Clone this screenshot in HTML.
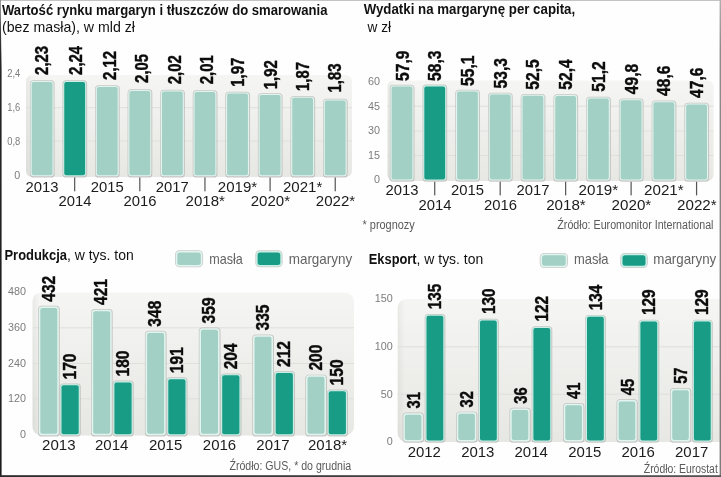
<!DOCTYPE html>
<html lang="pl"><head><meta charset="utf-8"><title>Rynek margaryn</title>
<style>
html,body{margin:0;padding:0;background:#fff;}
body{width:721px;height:477px;overflow:hidden;}
svg{display:block;will-change:transform;font-family:"Liberation Sans","DejaVu Sans",sans-serif;}
.v{font-weight:bold;fill:#0c0c0c;stroke:#0c0c0c;stroke-width:0.4px;}
.y{fill:#7c7c7c;}
.x{fill:#1c1c1c;}
.t{fill:#111;font-size:14.5px;}
.tb{font-weight:bold;}
.s{fill:#5a5a5a;font-size:12px;}
.l{fill:#636363;font-size:14.5px;}
</style></head><body>
<svg width="721" height="477" viewBox="0 0 721 477">
<defs>
<linearGradient id="g" x1="0" y1="0" x2="0" y2="1"><stop offset="0" stop-color="#f5f5f3"/><stop offset="1" stop-color="#e7e7e4"/></linearGradient>
<linearGradient id="sh" x1="0" y1="0" x2="1" y2="0"><stop offset="0" stop-color="#000" stop-opacity="0.05"/><stop offset="0.5" stop-color="#000" stop-opacity="0"/></linearGradient>
</defs>
<rect x="0" y="0" width="721" height="477" fill="#fefefe"/>
<text class="t tb" x="2" y="14.5" textLength="325.5" lengthAdjust="spacingAndGlyphs">Wartość rynku margaryn i tłuszczów do smarowania</text>
<text class="t" x="2" y="32" textLength="133" lengthAdjust="spacingAndGlyphs">(bez masła), w mld zł</text>
<rect x="26" y="75" width="326" height="102" rx="6" fill="url(#g)"/>
<rect x="26" y="75" width="14" height="102" rx="6" fill="url(#sh)"/>
<rect x="26" y="107.20" width="326" height="1" fill="#dfdfdc"/>
<rect x="26" y="140.50" width="326" height="1" fill="#dfdfdc"/>
<text class="y" x="20.30" y="77.40" text-anchor="end" font-size="11" textLength="13.0" lengthAdjust="spacingAndGlyphs">2,4</text>
<text class="y" x="20.30" y="111.10" text-anchor="end" font-size="11" textLength="13.0" lengthAdjust="spacingAndGlyphs">1,6</text>
<text class="y" x="20.30" y="145.00" text-anchor="end" font-size="11" textLength="13.0" lengthAdjust="spacingAndGlyphs">0,8</text>
<text class="y" x="20.30" y="179.20" text-anchor="end" font-size="11" textLength="6.0" lengthAdjust="spacingAndGlyphs">0</text>
<rect x="29.90" y="80.30" width="24.70" height="97.20" rx="3.6" fill="#b3b5b1" opacity="0.7"/>
<rect x="30.60" y="81.00" width="23.00" height="95.30" rx="3" fill="#e2f4ef"/>
<rect x="31.70" y="82.10" width="20.80" height="93.10" rx="2" fill="#a3d0c5"/>
<rect x="62.47" y="80.30" width="24.70" height="97.20" rx="3.6" fill="#b3b5b1" opacity="0.7"/>
<rect x="63.17" y="81.00" width="23.00" height="95.30" rx="3" fill="#c9efe6"/>
<rect x="64.27" y="82.10" width="20.80" height="93.10" rx="2" fill="#199c86"/>
<rect x="95.04" y="85.30" width="24.70" height="92.20" rx="3.6" fill="#b3b5b1" opacity="0.7"/>
<rect x="95.74" y="86.00" width="23.00" height="90.30" rx="3" fill="#e2f4ef"/>
<rect x="96.84" y="87.10" width="20.80" height="88.10" rx="2" fill="#a3d0c5"/>
<rect x="127.61" y="89.30" width="24.70" height="88.20" rx="3.6" fill="#b3b5b1" opacity="0.7"/>
<rect x="128.31" y="90.00" width="23.00" height="86.30" rx="3" fill="#e2f4ef"/>
<rect x="129.41" y="91.10" width="20.80" height="84.10" rx="2" fill="#a3d0c5"/>
<rect x="160.18" y="89.80" width="24.70" height="87.70" rx="3.6" fill="#b3b5b1" opacity="0.7"/>
<rect x="160.88" y="90.50" width="23.00" height="85.80" rx="3" fill="#e2f4ef"/>
<rect x="161.98" y="91.60" width="20.80" height="83.60" rx="2" fill="#a3d0c5"/>
<rect x="192.75" y="90.30" width="24.70" height="87.20" rx="3.6" fill="#b3b5b1" opacity="0.7"/>
<rect x="193.45" y="91.00" width="23.00" height="85.30" rx="3" fill="#e2f4ef"/>
<rect x="194.55" y="92.10" width="20.80" height="83.10" rx="2" fill="#a3d0c5"/>
<rect x="225.32" y="91.70" width="24.70" height="85.80" rx="3.6" fill="#b3b5b1" opacity="0.7"/>
<rect x="226.02" y="92.40" width="23.00" height="83.90" rx="3" fill="#e2f4ef"/>
<rect x="227.12" y="93.50" width="20.80" height="81.70" rx="2" fill="#a3d0c5"/>
<rect x="257.89" y="93.30" width="24.70" height="84.20" rx="3.6" fill="#b3b5b1" opacity="0.7"/>
<rect x="258.59" y="94.00" width="23.00" height="82.30" rx="3" fill="#e2f4ef"/>
<rect x="259.69" y="95.10" width="20.80" height="80.10" rx="2" fill="#a3d0c5"/>
<rect x="290.46" y="96.00" width="24.70" height="81.50" rx="3.6" fill="#b3b5b1" opacity="0.7"/>
<rect x="291.16" y="96.70" width="23.00" height="79.60" rx="3" fill="#e2f4ef"/>
<rect x="292.26" y="97.80" width="20.80" height="77.40" rx="2" fill="#a3d0c5"/>
<rect x="323.03" y="98.80" width="24.70" height="78.70" rx="3.6" fill="#b3b5b1" opacity="0.7"/>
<rect x="323.73" y="99.50" width="23.00" height="76.80" rx="3" fill="#e2f4ef"/>
<rect x="324.83" y="100.60" width="20.80" height="74.60" rx="2" fill="#a3d0c5"/>
<text class="v" transform="translate(47.60,74.90) rotate(-90)" font-size="18" textLength="29.0" lengthAdjust="spacingAndGlyphs">2,23</text>
<text class="x" x="25.60" y="191.60" font-size="14.5" textLength="33.0" lengthAdjust="spacingAndGlyphs">2013</text>
<text class="v" transform="translate(81.60,74.90) rotate(-90)" font-size="18" textLength="29.0" lengthAdjust="spacingAndGlyphs">2,24</text>
<text class="x" x="58.47" y="206.10" font-size="14.5" textLength="33.0" lengthAdjust="spacingAndGlyphs">2014</text>
<rect x="74.07" y="177.5" width="1.2" height="13.8" fill="#555"/>
<text class="v" transform="translate(115.50,79.90) rotate(-90)" font-size="18" textLength="29.0" lengthAdjust="spacingAndGlyphs">2,12</text>
<text class="x" x="90.74" y="191.60" font-size="14.5" textLength="33.0" lengthAdjust="spacingAndGlyphs">2015</text>
<text class="v" transform="translate(148.10,82.90) rotate(-90)" font-size="18" textLength="29.0" lengthAdjust="spacingAndGlyphs">2,05</text>
<text class="x" x="123.61" y="206.10" font-size="14.5" textLength="33.0" lengthAdjust="spacingAndGlyphs">2016</text>
<rect x="139.21" y="177.5" width="1.2" height="13.8" fill="#555"/>
<text class="v" transform="translate(180.50,84.20) rotate(-90)" font-size="18" textLength="29.0" lengthAdjust="spacingAndGlyphs">2,02</text>
<text class="x" x="155.88" y="191.60" font-size="14.5" textLength="33.0" lengthAdjust="spacingAndGlyphs">2017</text>
<text class="v" transform="translate(212.60,84.20) rotate(-90)" font-size="18" textLength="29.0" lengthAdjust="spacingAndGlyphs">2,01</text>
<text class="x" x="185.60" y="206.10" font-size="14.5" textLength="39.3" lengthAdjust="spacingAndGlyphs">2018*</text>
<rect x="204.35" y="177.5" width="1.2" height="13.8" fill="#555"/>
<text class="v" transform="translate(243.90,86.70) rotate(-90)" font-size="18" textLength="29.0" lengthAdjust="spacingAndGlyphs">1,97</text>
<text class="x" x="217.87" y="191.60" font-size="14.5" textLength="39.3" lengthAdjust="spacingAndGlyphs">2019*</text>
<text class="v" transform="translate(276.60,89.20) rotate(-90)" font-size="18" textLength="29.0" lengthAdjust="spacingAndGlyphs">1,92</text>
<text class="x" x="250.74" y="206.10" font-size="14.5" textLength="39.3" lengthAdjust="spacingAndGlyphs">2020*</text>
<rect x="269.49" y="177.5" width="1.2" height="13.8" fill="#555"/>
<text class="v" transform="translate(309.30,91.00) rotate(-90)" font-size="18" textLength="29.0" lengthAdjust="spacingAndGlyphs">1,87</text>
<text class="x" x="283.01" y="191.60" font-size="14.5" textLength="39.3" lengthAdjust="spacingAndGlyphs">2021*</text>
<text class="v" transform="translate(341.20,92.50) rotate(-90)" font-size="18" textLength="29.0" lengthAdjust="spacingAndGlyphs">1,83</text>
<text class="x" x="315.88" y="206.10" font-size="14.5" textLength="39.3" lengthAdjust="spacingAndGlyphs">2022*</text>
<rect x="334.63" y="177.5" width="1.2" height="13.8" fill="#555"/>
<text class="t tb" x="363.7" y="14.3" textLength="211.5" lengthAdjust="spacingAndGlyphs">Wydatki na margarynę per capita,</text>
<text class="t" x="367.5" y="32.3" textLength="23.5" lengthAdjust="spacingAndGlyphs">w zł</text>
<rect x="387.5" y="80.5" width="326.0" height="100.5" rx="6" fill="url(#g)"/>
<rect x="387.5" y="80.5" width="14" height="100.5" rx="6" fill="url(#sh)"/>
<rect x="387.5" y="105.70" width="326.0" height="1" fill="#dfdfdc"/>
<rect x="387.5" y="130.50" width="326.0" height="1" fill="#dfdfdc"/>
<rect x="387.5" y="155.00" width="326.0" height="1" fill="#dfdfdc"/>
<text class="y" x="379.90" y="84.70" text-anchor="end" font-size="11" textLength="12.0" lengthAdjust="spacingAndGlyphs">60</text>
<text class="y" x="379.90" y="109.60" text-anchor="end" font-size="11" textLength="12.0" lengthAdjust="spacingAndGlyphs">45</text>
<text class="y" x="379.90" y="134.40" text-anchor="end" font-size="11" textLength="12.0" lengthAdjust="spacingAndGlyphs">30</text>
<text class="y" x="379.90" y="158.90" text-anchor="end" font-size="11" textLength="12.0" lengthAdjust="spacingAndGlyphs">15</text>
<text class="y" x="379.90" y="183.40" text-anchor="end" font-size="11" textLength="6.0" lengthAdjust="spacingAndGlyphs">0</text>
<rect x="389.80" y="84.80" width="24.70" height="97.00" rx="3.6" fill="#b3b5b1" opacity="0.7"/>
<rect x="390.50" y="85.50" width="23.00" height="95.10" rx="3" fill="#e2f4ef"/>
<rect x="391.60" y="86.60" width="20.80" height="92.90" rx="2" fill="#a3d0c5"/>
<rect x="422.53" y="84.60" width="24.70" height="97.20" rx="3.6" fill="#b3b5b1" opacity="0.7"/>
<rect x="423.23" y="85.30" width="23.00" height="95.30" rx="3" fill="#c9efe6"/>
<rect x="424.33" y="86.40" width="20.80" height="93.10" rx="2" fill="#199c86"/>
<rect x="455.26" y="89.80" width="24.70" height="92.00" rx="3.6" fill="#b3b5b1" opacity="0.7"/>
<rect x="455.96" y="90.50" width="23.00" height="90.10" rx="3" fill="#e2f4ef"/>
<rect x="457.06" y="91.60" width="20.80" height="87.90" rx="2" fill="#a3d0c5"/>
<rect x="487.99" y="92.80" width="24.70" height="89.00" rx="3.6" fill="#b3b5b1" opacity="0.7"/>
<rect x="488.69" y="93.50" width="23.00" height="87.10" rx="3" fill="#e2f4ef"/>
<rect x="489.79" y="94.60" width="20.80" height="84.90" rx="2" fill="#a3d0c5"/>
<rect x="520.72" y="94.05" width="24.70" height="87.75" rx="3.6" fill="#b3b5b1" opacity="0.7"/>
<rect x="521.42" y="94.75" width="23.00" height="85.85" rx="3" fill="#e2f4ef"/>
<rect x="522.52" y="95.85" width="20.80" height="83.65" rx="2" fill="#a3d0c5"/>
<rect x="553.45" y="94.30" width="24.70" height="87.50" rx="3.6" fill="#b3b5b1" opacity="0.7"/>
<rect x="554.15" y="95.00" width="23.00" height="85.60" rx="3" fill="#e2f4ef"/>
<rect x="555.25" y="96.10" width="20.80" height="83.40" rx="2" fill="#a3d0c5"/>
<rect x="586.18" y="96.80" width="24.70" height="85.00" rx="3.6" fill="#b3b5b1" opacity="0.7"/>
<rect x="586.88" y="97.50" width="23.00" height="83.10" rx="3" fill="#e2f4ef"/>
<rect x="587.98" y="98.60" width="20.80" height="80.90" rx="2" fill="#a3d0c5"/>
<rect x="618.91" y="98.55" width="24.70" height="83.25" rx="3.6" fill="#b3b5b1" opacity="0.7"/>
<rect x="619.61" y="99.25" width="23.00" height="81.35" rx="3" fill="#e2f4ef"/>
<rect x="620.71" y="100.35" width="20.80" height="79.15" rx="2" fill="#a3d0c5"/>
<rect x="651.64" y="100.55" width="24.70" height="81.25" rx="3.6" fill="#b3b5b1" opacity="0.7"/>
<rect x="652.34" y="101.25" width="23.00" height="79.35" rx="3" fill="#e2f4ef"/>
<rect x="653.44" y="102.35" width="20.80" height="77.15" rx="2" fill="#a3d0c5"/>
<rect x="684.37" y="102.80" width="24.70" height="79.00" rx="3.6" fill="#b3b5b1" opacity="0.7"/>
<rect x="685.07" y="103.50" width="23.00" height="77.10" rx="3" fill="#e2f4ef"/>
<rect x="686.17" y="104.60" width="20.80" height="74.90" rx="2" fill="#a3d0c5"/>
<text class="v" transform="translate(408.50,80.90) rotate(-90)" font-size="18" textLength="30.4" lengthAdjust="spacingAndGlyphs">57,9</text>
<text class="x" x="385.50" y="195.30" font-size="14.5" textLength="33.0" lengthAdjust="spacingAndGlyphs">2013</text>
<text class="v" transform="translate(441.23,80.90) rotate(-90)" font-size="18" textLength="30.4" lengthAdjust="spacingAndGlyphs">58,3</text>
<text class="x" x="418.53" y="210.00" font-size="14.5" textLength="33.0" lengthAdjust="spacingAndGlyphs">2014</text>
<rect x="434.13" y="181.8" width="1.2" height="13.6" fill="#555"/>
<text class="v" transform="translate(473.96,85.90) rotate(-90)" font-size="18" textLength="30.4" lengthAdjust="spacingAndGlyphs">55,1</text>
<text class="x" x="450.96" y="195.30" font-size="14.5" textLength="33.0" lengthAdjust="spacingAndGlyphs">2015</text>
<text class="v" transform="translate(506.69,88.40) rotate(-90)" font-size="18" textLength="30.4" lengthAdjust="spacingAndGlyphs">53,3</text>
<text class="x" x="483.99" y="210.00" font-size="14.5" textLength="33.0" lengthAdjust="spacingAndGlyphs">2016</text>
<rect x="499.59" y="181.8" width="1.2" height="13.6" fill="#555"/>
<text class="v" transform="translate(539.42,89.65) rotate(-90)" font-size="18" textLength="30.4" lengthAdjust="spacingAndGlyphs">52,5</text>
<text class="x" x="516.42" y="195.30" font-size="14.5" textLength="33.0" lengthAdjust="spacingAndGlyphs">2017</text>
<text class="v" transform="translate(572.15,89.65) rotate(-90)" font-size="18" textLength="30.4" lengthAdjust="spacingAndGlyphs">52,4</text>
<text class="x" x="546.15" y="210.00" font-size="14.5" textLength="39.6" lengthAdjust="spacingAndGlyphs">2018*</text>
<rect x="565.05" y="181.8" width="1.2" height="13.6" fill="#555"/>
<text class="v" transform="translate(604.88,91.65) rotate(-90)" font-size="18" textLength="30.4" lengthAdjust="spacingAndGlyphs">51,2</text>
<text class="x" x="578.58" y="195.30" font-size="14.5" textLength="39.6" lengthAdjust="spacingAndGlyphs">2019*</text>
<text class="v" transform="translate(637.61,94.15) rotate(-90)" font-size="18" textLength="30.4" lengthAdjust="spacingAndGlyphs">49,8</text>
<text class="x" x="611.61" y="210.00" font-size="14.5" textLength="39.6" lengthAdjust="spacingAndGlyphs">2020*</text>
<rect x="630.51" y="181.8" width="1.2" height="13.6" fill="#555"/>
<text class="v" transform="translate(670.34,95.90) rotate(-90)" font-size="18" textLength="30.4" lengthAdjust="spacingAndGlyphs">48,6</text>
<text class="x" x="644.04" y="195.30" font-size="14.5" textLength="39.6" lengthAdjust="spacingAndGlyphs">2021*</text>
<text class="v" transform="translate(703.07,97.90) rotate(-90)" font-size="18" textLength="30.4" lengthAdjust="spacingAndGlyphs">47,6</text>
<text class="x" x="677.07" y="210.00" font-size="14.5" textLength="39.6" lengthAdjust="spacingAndGlyphs">2022*</text>
<rect x="695.97" y="181.8" width="1.2" height="13.6" fill="#555"/>
<text class="s" x="362.5" y="229.3" textLength="52.3" lengthAdjust="spacingAndGlyphs">* prognozy</text>
<text class="s" x="557.3" y="228.8" textLength="156.2" lengthAdjust="spacingAndGlyphs">Źródło: Euromonitor International</text>
<text class="t" x="4.5" y="259.5"><tspan class="tb" textLength="62.5" lengthAdjust="spacingAndGlyphs">Produkcja</tspan></text>
<text class="t" x="67" y="259.5" textLength="66.8" lengthAdjust="spacingAndGlyphs">, w tys. ton</text>
<rect x="175.00" y="250.30" width="28.10" height="17.00" rx="4.5" fill="#bdbfbb" opacity="0.8"/>
<rect x="175.80" y="251.10" width="26.50" height="15.40" rx="3.8" fill="#e2f4ef"/>
<rect x="177.30" y="252.60" width="23.50" height="12.40" rx="2.5" fill="#a3d0c5"/>
<rect x="255.30" y="250.30" width="27.30" height="17.00" rx="4.5" fill="#bdbfbb" opacity="0.8"/>
<rect x="256.10" y="251.10" width="25.70" height="15.40" rx="3.8" fill="#c9efe6"/>
<rect x="257.60" y="252.60" width="22.70" height="12.40" rx="2.5" fill="#199c86"/>
<text class="l" x="209.2" y="263.8" textLength="33.6" lengthAdjust="spacingAndGlyphs">masła</text>
<text class="l" x="288.7" y="263.8" textLength="63.6" lengthAdjust="spacingAndGlyphs">margaryny</text>
<rect x="32.5" y="292.5" width="321.5" height="143.0" rx="9" fill="url(#g)"/>
<rect x="32.5" y="292.5" width="14" height="143.0" rx="9" fill="url(#sh)"/>
<rect x="32.5" y="327.30" width="321.5" height="1" fill="#dfdfdc"/>
<rect x="32.5" y="363.00" width="321.5" height="1" fill="#dfdfdc"/>
<rect x="32.5" y="398.30" width="321.5" height="1" fill="#dfdfdc"/>
<text class="y" x="25.90" y="295.40" text-anchor="end" font-size="11" textLength="18.0" lengthAdjust="spacingAndGlyphs">480</text>
<text class="y" x="25.90" y="331.20" text-anchor="end" font-size="11" textLength="18.0" lengthAdjust="spacingAndGlyphs">360</text>
<text class="y" x="25.90" y="366.90" text-anchor="end" font-size="11" textLength="18.0" lengthAdjust="spacingAndGlyphs">240</text>
<text class="y" x="25.90" y="402.20" text-anchor="end" font-size="11" textLength="18.0" lengthAdjust="spacingAndGlyphs">120</text>
<text class="y" x="25.90" y="438.40" text-anchor="end" font-size="11" textLength="6.0" lengthAdjust="spacingAndGlyphs">0</text>
<rect x="38.10" y="305.83" width="21.70" height="130.67" rx="3.6" fill="#b3b5b1" opacity="0.7"/>
<rect x="38.80" y="306.53" width="20.00" height="128.77" rx="3" fill="#e2f4ef"/>
<rect x="40.30" y="308.03" width="17.00" height="125.77" rx="2" fill="#a3d0c5"/>
<rect x="59.70" y="383.56" width="21.10" height="52.94" rx="3.6" fill="#b3b5b1" opacity="0.7"/>
<rect x="60.40" y="384.26" width="19.40" height="51.04" rx="3" fill="#c9efe6"/>
<rect x="61.50" y="385.36" width="17.20" height="48.84" rx="2" fill="#199c86"/>
<rect x="91.00" y="309.09" width="21.70" height="127.41" rx="3.6" fill="#b3b5b1" opacity="0.7"/>
<rect x="91.70" y="309.79" width="20.00" height="125.51" rx="3" fill="#e2f4ef"/>
<rect x="93.20" y="311.29" width="17.00" height="122.51" rx="2" fill="#a3d0c5"/>
<rect x="112.60" y="380.59" width="21.10" height="55.91" rx="3.6" fill="#b3b5b1" opacity="0.7"/>
<rect x="113.30" y="381.29" width="19.40" height="54.01" rx="3" fill="#c9efe6"/>
<rect x="114.40" y="382.39" width="17.20" height="51.81" rx="2" fill="#199c86"/>
<rect x="144.90" y="330.75" width="21.70" height="105.75" rx="3.6" fill="#b3b5b1" opacity="0.7"/>
<rect x="145.60" y="331.45" width="20.00" height="103.85" rx="3" fill="#e2f4ef"/>
<rect x="147.10" y="332.95" width="17.00" height="100.85" rx="2" fill="#a3d0c5"/>
<rect x="166.50" y="377.33" width="21.10" height="59.17" rx="3.6" fill="#b3b5b1" opacity="0.7"/>
<rect x="167.20" y="378.03" width="19.40" height="57.27" rx="3" fill="#c9efe6"/>
<rect x="168.30" y="379.13" width="17.20" height="55.07" rx="2" fill="#199c86"/>
<rect x="198.80" y="327.48" width="21.70" height="109.02" rx="3.6" fill="#b3b5b1" opacity="0.7"/>
<rect x="199.50" y="328.18" width="20.00" height="107.12" rx="3" fill="#e2f4ef"/>
<rect x="201.00" y="329.68" width="17.00" height="104.12" rx="2" fill="#a3d0c5"/>
<rect x="220.40" y="373.47" width="21.10" height="63.03" rx="3.6" fill="#b3b5b1" opacity="0.7"/>
<rect x="221.10" y="374.17" width="19.40" height="61.13" rx="3" fill="#c9efe6"/>
<rect x="222.20" y="375.27" width="17.20" height="58.93" rx="2" fill="#199c86"/>
<rect x="252.30" y="334.61" width="21.70" height="101.89" rx="3.6" fill="#b3b5b1" opacity="0.7"/>
<rect x="253.00" y="335.31" width="20.00" height="99.99" rx="3" fill="#e2f4ef"/>
<rect x="254.50" y="336.81" width="17.00" height="96.99" rx="2" fill="#a3d0c5"/>
<rect x="273.90" y="371.10" width="21.10" height="65.40" rx="3.6" fill="#b3b5b1" opacity="0.7"/>
<rect x="274.60" y="371.80" width="19.40" height="63.50" rx="3" fill="#c9efe6"/>
<rect x="275.70" y="372.90" width="17.20" height="61.30" rx="2" fill="#199c86"/>
<rect x="305.30" y="374.66" width="21.70" height="61.84" rx="3.6" fill="#b3b5b1" opacity="0.7"/>
<rect x="306.00" y="375.36" width="20.00" height="59.94" rx="3" fill="#e2f4ef"/>
<rect x="307.50" y="376.86" width="17.00" height="56.94" rx="2" fill="#a3d0c5"/>
<rect x="326.90" y="389.50" width="21.10" height="47.01" rx="3.6" fill="#b3b5b1" opacity="0.7"/>
<rect x="327.60" y="390.19" width="19.40" height="45.11" rx="3" fill="#c9efe6"/>
<rect x="328.70" y="391.30" width="17.20" height="42.91" rx="2" fill="#199c86"/>
<text class="v" transform="translate(54.50,301.73) rotate(-90)" font-size="18" textLength="26.0" lengthAdjust="spacingAndGlyphs">432</text>
<text class="v" transform="translate(76.00,379.46) rotate(-90)" font-size="18" textLength="26.0" lengthAdjust="spacingAndGlyphs">170</text>
<text class="x" x="42.10" y="450.40" font-size="14.5" textLength="33.4" lengthAdjust="spacingAndGlyphs">2013</text>
<text class="v" transform="translate(107.40,304.99) rotate(-90)" font-size="18" textLength="26.0" lengthAdjust="spacingAndGlyphs">421</text>
<text class="v" transform="translate(128.90,376.49) rotate(-90)" font-size="18" textLength="26.0" lengthAdjust="spacingAndGlyphs">180</text>
<text class="x" x="95.00" y="450.40" font-size="14.5" textLength="33.4" lengthAdjust="spacingAndGlyphs">2014</text>
<text class="v" transform="translate(161.30,326.65) rotate(-90)" font-size="18" textLength="26.0" lengthAdjust="spacingAndGlyphs">348</text>
<text class="v" transform="translate(182.80,373.23) rotate(-90)" font-size="18" textLength="26.0" lengthAdjust="spacingAndGlyphs">191</text>
<text class="x" x="148.90" y="450.40" font-size="14.5" textLength="33.4" lengthAdjust="spacingAndGlyphs">2015</text>
<text class="v" transform="translate(215.20,323.38) rotate(-90)" font-size="18" textLength="26.0" lengthAdjust="spacingAndGlyphs">359</text>
<text class="v" transform="translate(236.70,369.37) rotate(-90)" font-size="18" textLength="26.0" lengthAdjust="spacingAndGlyphs">204</text>
<text class="x" x="202.80" y="450.40" font-size="14.5" textLength="33.4" lengthAdjust="spacingAndGlyphs">2016</text>
<text class="v" transform="translate(268.70,330.51) rotate(-90)" font-size="18" textLength="26.0" lengthAdjust="spacingAndGlyphs">335</text>
<text class="v" transform="translate(290.20,367.00) rotate(-90)" font-size="18" textLength="26.0" lengthAdjust="spacingAndGlyphs">212</text>
<text class="x" x="256.30" y="450.40" font-size="14.5" textLength="33.4" lengthAdjust="spacingAndGlyphs">2017</text>
<text class="v" transform="translate(321.70,370.56) rotate(-90)" font-size="18" textLength="26.0" lengthAdjust="spacingAndGlyphs">200</text>
<text class="v" transform="translate(343.20,385.39) rotate(-90)" font-size="18" textLength="26.0" lengthAdjust="spacingAndGlyphs">150</text>
<text class="x" x="307.90" y="450.40" font-size="14.5" textLength="39.2" lengthAdjust="spacingAndGlyphs">2018*</text>
<text class="s" x="229.5" y="469.9" textLength="121.7" lengthAdjust="spacingAndGlyphs">Źródło: GUS, * do grudnia</text>
<text class="t" x="368.8" y="263.9"><tspan class="tb" textLength="47.8" lengthAdjust="spacingAndGlyphs">Eksport</tspan></text>
<text class="t" x="416.6" y="263.9" textLength="66.6" lengthAdjust="spacingAndGlyphs">, w tys. ton</text>
<rect x="539.70" y="253.00" width="28.30" height="15.00" rx="4.5" fill="#bdbfbb" opacity="0.8"/>
<rect x="540.50" y="253.80" width="26.70" height="13.40" rx="3.8" fill="#e2f4ef"/>
<rect x="542.00" y="255.30" width="23.70" height="10.40" rx="2.5" fill="#a3d0c5"/>
<rect x="620.20" y="253.00" width="27.60" height="15.00" rx="4.5" fill="#bdbfbb" opacity="0.8"/>
<rect x="621.00" y="253.80" width="26.00" height="13.40" rx="3.8" fill="#c9efe6"/>
<rect x="622.50" y="255.30" width="23.00" height="10.40" rx="2.5" fill="#199c86"/>
<text class="l" x="574" y="264.4" textLength="34.5" lengthAdjust="spacingAndGlyphs">masła</text>
<text class="l" x="653.3" y="264.4" textLength="63" lengthAdjust="spacingAndGlyphs">margaryny</text>
<rect x="397.7" y="299" width="332.3" height="143" rx="9" fill="url(#g)"/>
<rect x="397.7" y="299" width="14" height="143" rx="9" fill="url(#sh)"/>
<rect x="397.7" y="346.30" width="332.3" height="1" fill="#dfdfdc"/>
<rect x="397.7" y="393.70" width="332.3" height="1" fill="#dfdfdc"/>
<text class="y" x="392.80" y="302.40" text-anchor="end" font-size="11" textLength="18.0" lengthAdjust="spacingAndGlyphs">150</text>
<text class="y" x="392.80" y="350.20" text-anchor="end" font-size="11" textLength="18.0" lengthAdjust="spacingAndGlyphs">100</text>
<text class="y" x="392.80" y="397.60" text-anchor="end" font-size="11" textLength="12.0" lengthAdjust="spacingAndGlyphs">50</text>
<text class="y" x="392.80" y="445.40" text-anchor="end" font-size="11" textLength="6.0" lengthAdjust="spacingAndGlyphs">0</text>
<rect x="402.60" y="412.60" width="21.30" height="30.20" rx="3.6" fill="#b3b5b1" opacity="0.7"/>
<rect x="403.30" y="413.30" width="19.60" height="28.30" rx="3" fill="#e2f4ef"/>
<rect x="404.80" y="414.80" width="16.60" height="25.30" rx="2" fill="#a3d0c5"/>
<rect x="424.70" y="313.95" width="20.70" height="128.85" rx="3.6" fill="#b3b5b1" opacity="0.7"/>
<rect x="425.40" y="314.65" width="19.00" height="126.95" rx="3" fill="#c9efe6"/>
<rect x="426.50" y="315.75" width="16.80" height="124.75" rx="2" fill="#199c86"/>
<rect x="456.10" y="411.65" width="21.30" height="31.15" rx="3.6" fill="#b3b5b1" opacity="0.7"/>
<rect x="456.80" y="412.35" width="19.60" height="29.25" rx="3" fill="#e2f4ef"/>
<rect x="458.30" y="413.85" width="16.60" height="26.25" rx="2" fill="#a3d0c5"/>
<rect x="478.20" y="318.69" width="20.70" height="124.11" rx="3.6" fill="#b3b5b1" opacity="0.7"/>
<rect x="478.90" y="319.39" width="19.00" height="122.21" rx="3" fill="#c9efe6"/>
<rect x="480.00" y="320.50" width="16.80" height="120.01" rx="2" fill="#199c86"/>
<rect x="509.50" y="407.85" width="21.30" height="34.95" rx="3.6" fill="#b3b5b1" opacity="0.7"/>
<rect x="510.20" y="408.55" width="19.60" height="33.05" rx="3" fill="#e2f4ef"/>
<rect x="511.70" y="410.05" width="16.60" height="30.05" rx="2" fill="#a3d0c5"/>
<rect x="531.60" y="326.28" width="20.70" height="116.52" rx="3.6" fill="#b3b5b1" opacity="0.7"/>
<rect x="532.30" y="326.98" width="19.00" height="114.62" rx="3" fill="#c9efe6"/>
<rect x="533.40" y="328.08" width="16.80" height="112.42" rx="2" fill="#199c86"/>
<rect x="563.10" y="403.11" width="21.30" height="39.69" rx="3.6" fill="#b3b5b1" opacity="0.7"/>
<rect x="563.80" y="403.81" width="19.60" height="37.79" rx="3" fill="#e2f4ef"/>
<rect x="565.30" y="405.31" width="16.60" height="34.79" rx="2" fill="#a3d0c5"/>
<rect x="585.20" y="314.90" width="20.70" height="127.90" rx="3.6" fill="#b3b5b1" opacity="0.7"/>
<rect x="585.90" y="315.60" width="19.00" height="126.00" rx="3" fill="#c9efe6"/>
<rect x="587.00" y="316.70" width="16.80" height="123.80" rx="2" fill="#199c86"/>
<rect x="616.50" y="399.32" width="21.30" height="43.48" rx="3.6" fill="#b3b5b1" opacity="0.7"/>
<rect x="617.20" y="400.02" width="19.60" height="41.58" rx="3" fill="#e2f4ef"/>
<rect x="618.70" y="401.52" width="16.60" height="38.58" rx="2" fill="#a3d0c5"/>
<rect x="638.60" y="319.64" width="20.70" height="123.16" rx="3.6" fill="#b3b5b1" opacity="0.7"/>
<rect x="639.30" y="320.34" width="19.00" height="121.26" rx="3" fill="#c9efe6"/>
<rect x="640.40" y="321.44" width="16.80" height="119.06" rx="2" fill="#199c86"/>
<rect x="670.00" y="387.94" width="21.30" height="54.86" rx="3.6" fill="#b3b5b1" opacity="0.7"/>
<rect x="670.70" y="388.64" width="19.60" height="52.96" rx="3" fill="#e2f4ef"/>
<rect x="672.20" y="390.14" width="16.60" height="49.96" rx="2" fill="#a3d0c5"/>
<rect x="692.10" y="319.64" width="20.70" height="123.16" rx="3.6" fill="#b3b5b1" opacity="0.7"/>
<rect x="692.80" y="320.34" width="19.00" height="121.26" rx="3" fill="#c9efe6"/>
<rect x="693.90" y="321.44" width="16.80" height="119.06" rx="2" fill="#199c86"/>
<text class="v" transform="translate(419.60,408.50) rotate(-90)" font-size="18" textLength="16.4" lengthAdjust="spacingAndGlyphs">31</text>
<text class="v" transform="translate(441.00,309.25) rotate(-90)" font-size="18" textLength="25.6" lengthAdjust="spacingAndGlyphs">135</text>
<text class="x" x="407.65" y="457.00" font-size="14.5" textLength="33.3" lengthAdjust="spacingAndGlyphs">2012</text>
<text class="v" transform="translate(473.10,407.55) rotate(-90)" font-size="18" textLength="16.4" lengthAdjust="spacingAndGlyphs">32</text>
<text class="v" transform="translate(494.50,314.00) rotate(-90)" font-size="18" textLength="25.6" lengthAdjust="spacingAndGlyphs">130</text>
<text class="x" x="461.15" y="457.00" font-size="14.5" textLength="33.3" lengthAdjust="spacingAndGlyphs">2013</text>
<text class="v" transform="translate(526.50,403.75) rotate(-90)" font-size="18" textLength="16.4" lengthAdjust="spacingAndGlyphs">36</text>
<text class="v" transform="translate(547.90,321.58) rotate(-90)" font-size="18" textLength="25.6" lengthAdjust="spacingAndGlyphs">122</text>
<text class="x" x="514.55" y="457.00" font-size="14.5" textLength="33.3" lengthAdjust="spacingAndGlyphs">2014</text>
<text class="v" transform="translate(580.10,399.01) rotate(-90)" font-size="18" textLength="16.4" lengthAdjust="spacingAndGlyphs">41</text>
<text class="v" transform="translate(601.50,310.20) rotate(-90)" font-size="18" textLength="25.6" lengthAdjust="spacingAndGlyphs">134</text>
<text class="x" x="568.15" y="457.00" font-size="14.5" textLength="33.3" lengthAdjust="spacingAndGlyphs">2015</text>
<text class="v" transform="translate(633.50,395.22) rotate(-90)" font-size="18" textLength="16.4" lengthAdjust="spacingAndGlyphs">45</text>
<text class="v" transform="translate(654.90,314.94) rotate(-90)" font-size="18" textLength="25.6" lengthAdjust="spacingAndGlyphs">129</text>
<text class="x" x="621.55" y="457.00" font-size="14.5" textLength="33.3" lengthAdjust="spacingAndGlyphs">2016</text>
<text class="v" transform="translate(687.00,383.84) rotate(-90)" font-size="18" textLength="16.4" lengthAdjust="spacingAndGlyphs">57</text>
<text class="v" transform="translate(708.40,314.94) rotate(-90)" font-size="18" textLength="25.6" lengthAdjust="spacingAndGlyphs">129</text>
<text class="x" x="675.05" y="457.00" font-size="14.5" textLength="33.3" lengthAdjust="spacingAndGlyphs">2017</text>
<text class="s" x="643.8" y="473" textLength="74" lengthAdjust="spacingAndGlyphs">Źródło: Eurostat</text>
<defs><linearGradient id="lb" x1="0" y1="0" x2="0" y2="1"><stop offset="0" stop-color="#8a8a8a"/><stop offset="0.05" stop-color="#444"/><stop offset="0.12" stop-color="#262626"/><stop offset="1" stop-color="#1c1c1c"/></linearGradient>
<linearGradient id="rb" x1="0" y1="0" x2="0" y2="1"><stop offset="0" stop-color="#b0b0b0"/><stop offset="0.1" stop-color="#8c8c8c"/><stop offset="1" stop-color="#7c7c7c"/></linearGradient>
<linearGradient id="bb" x1="0" y1="0" x2="1" y2="0"><stop offset="0" stop-color="#2a2a2a"/><stop offset="1" stop-color="#565656"/></linearGradient></defs>
<rect x="0" y="0" width="721" height="0.8" fill="#b4b4b4"/>
<polygon points="0,0 0.8,0 0.8,18 1.6,70 1.6,477 0,477" fill="url(#lb)"/>
<rect x="719.6" y="0" width="1.4" height="477" fill="url(#rb)"/>
<rect x="0" y="475.2" width="721" height="1.8" fill="url(#bb)"/>
</svg></body></html>
